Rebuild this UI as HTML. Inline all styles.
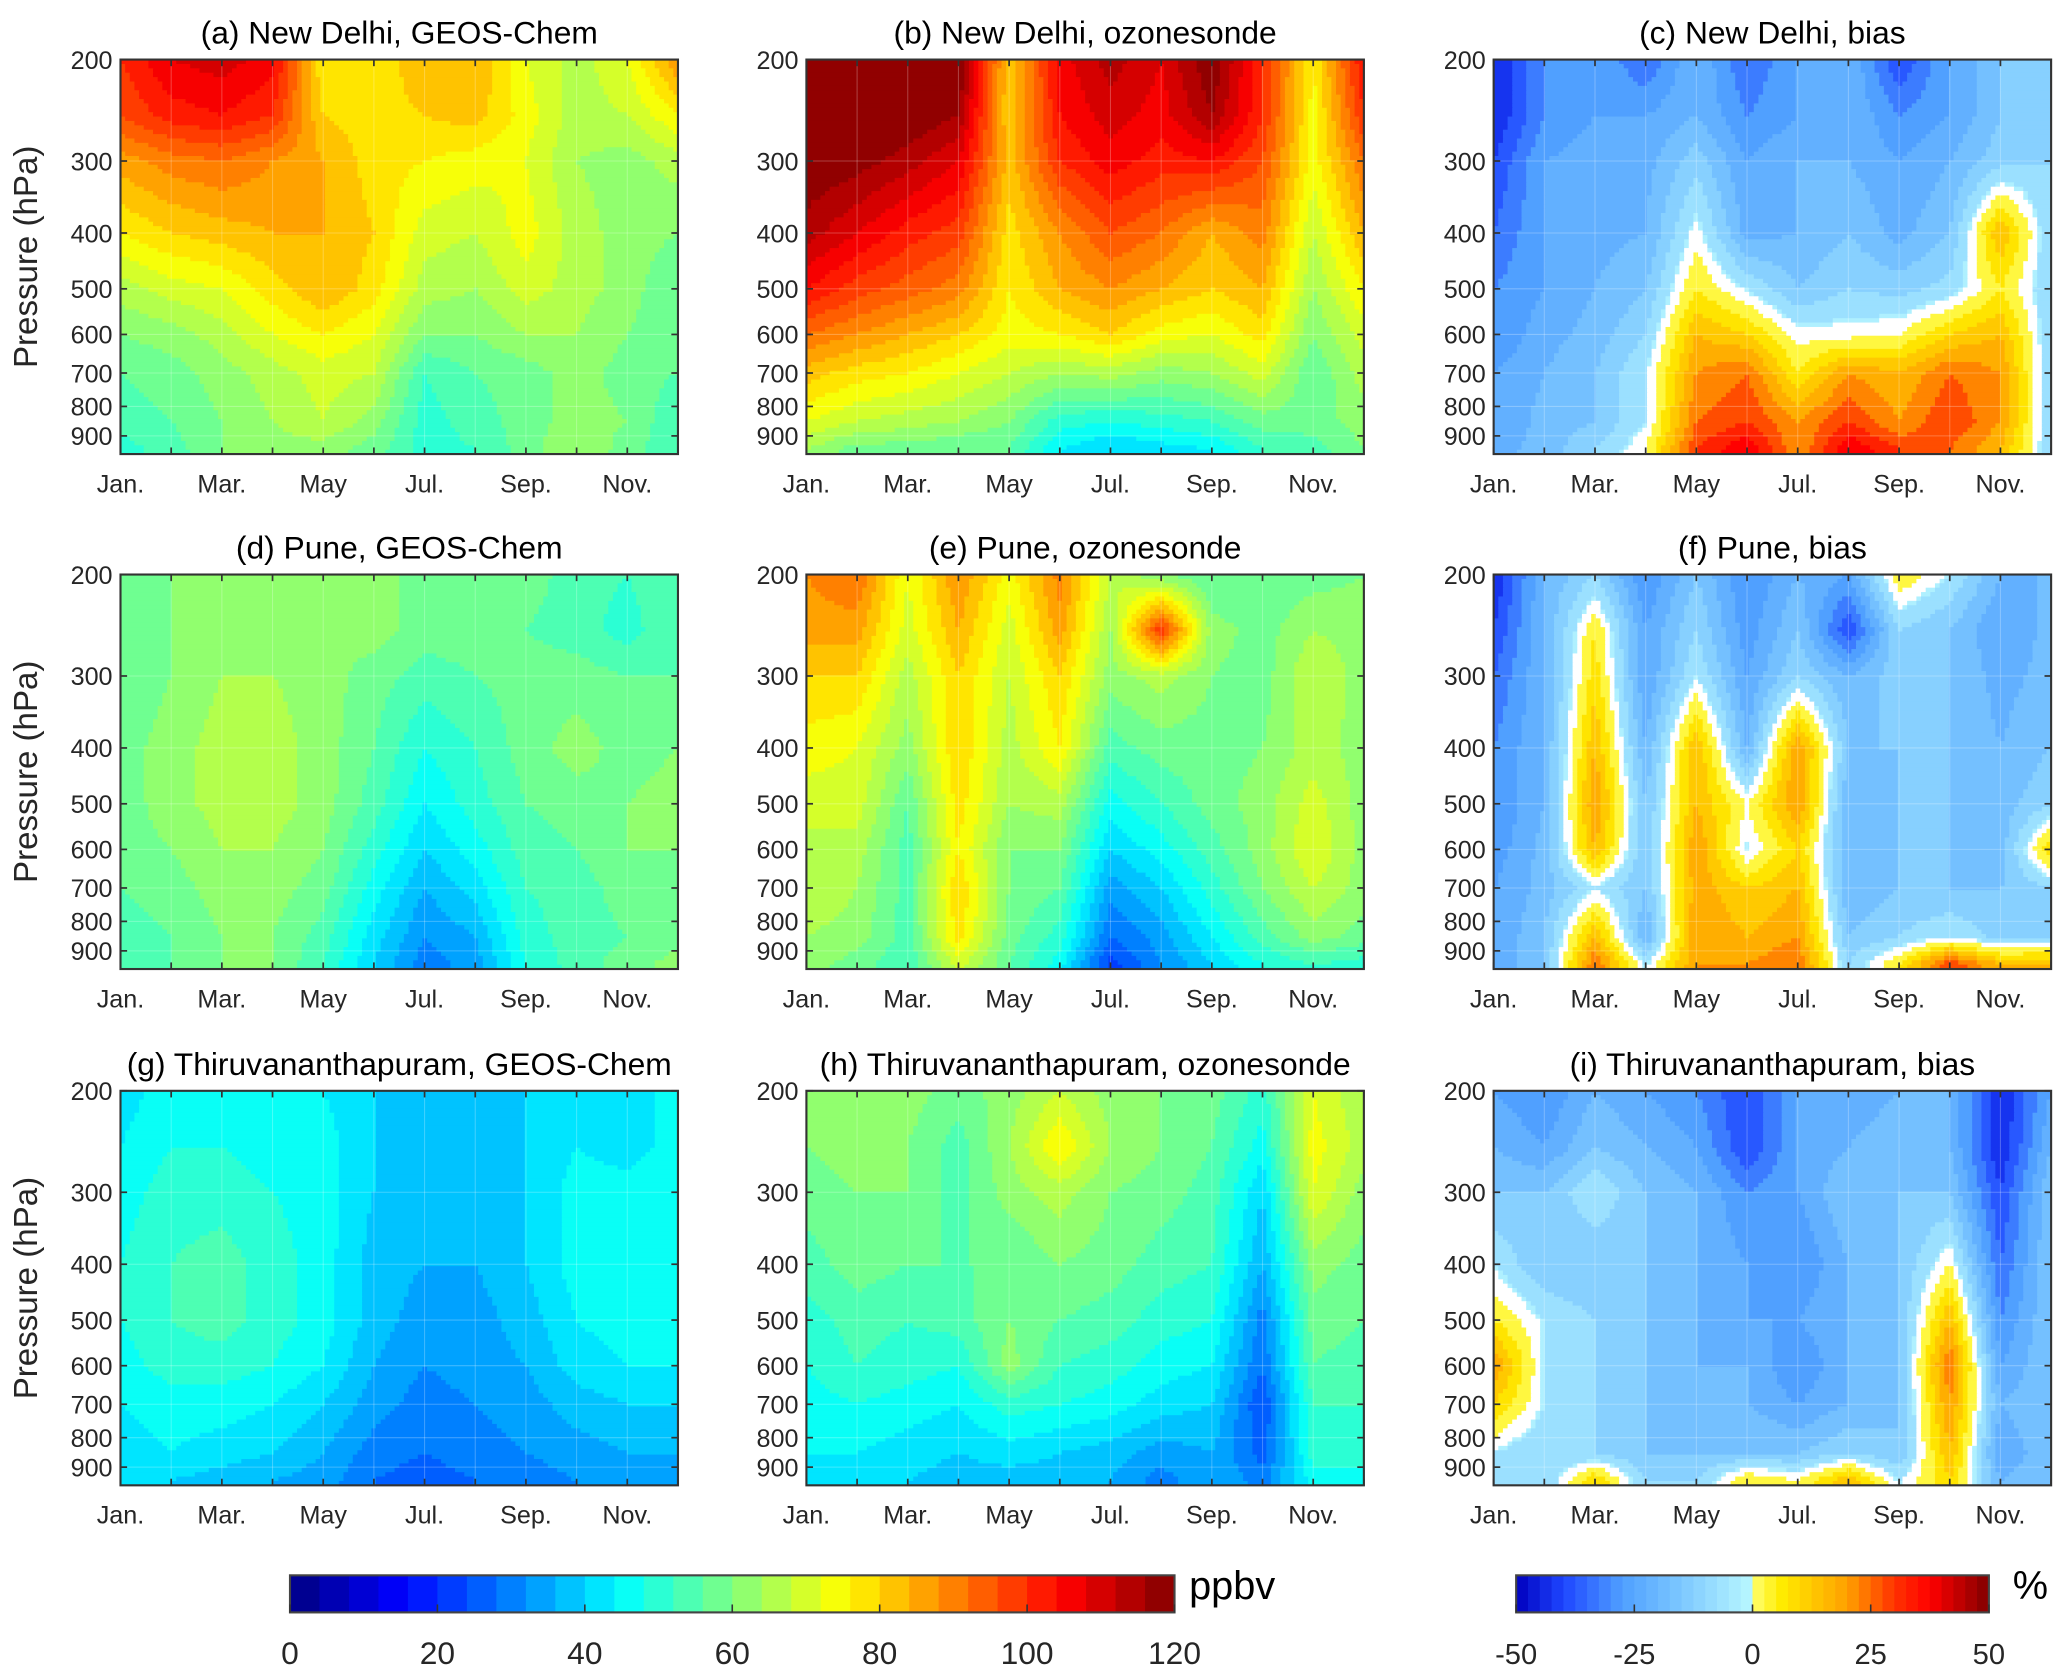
<!DOCTYPE html>
<html><head><meta charset="utf-8">
<style>
html,body{margin:0;padding:0;background:#fff;}
svg{display:block;font-family:"Liberation Sans",Arial,sans-serif;}
</style></head>
<body>
<svg id="fig" width="2067" height="1668" viewBox="0 0 1561 1260" preserveAspectRatio="none" xmlns="http://www.w3.org/2000/svg">
<rect x="0" y="0" width="1561" height="1260" fill="#fff"/>
</svg>
<script>
const months = ["Jan.","Mar.","May","Jul.","Sep.","Nov."];
const monthIdx = [1,3,5,7,9,11];
const levels = [200,250,300,400,500,600,700,850,950];
const pTicks = [200,300,400,500,600,700,800,900];
const titles = ["(a) New Delhi, GEOS-Chem","(b) New Delhi, ozonesonde","(c) New Delhi, bias",
"(d) Pune, GEOS-Chem","(e) Pune, ozonesonde","(f) Pune, bias",
"(g) Thiruvananthapuram, GEOS-Chem","(h) Thiruvananthapuram, ozonesonde","(i) Thiruvananthapuram, bias"];
const ppbTicks = [0,20,40,60,80,100,120];
const biasTicks = [-50,-25,0,25,50];

const dA = [
[100,108,110,106,76,76,84,84,72,66,72,88],
[96,102,104,100,80,78,80,82,74,66,68,76],
[86,90,92,88,84,78,76,74,72,64,62,66],
[76,80,82,84,84,80,70,68,74,66,62,60],
[66,70,72,78,84,78,66,64,70,66,62,56],
[60,62,66,72,76,72,60,60,64,64,60,56],
[56,58,62,66,70,68,52,56,58,62,58,56],
[54,56,60,64,68,62,50,54,58,62,60,52],
[50,54,60,62,62,58,50,52,58,64,58,52]];
const dB = [
[124,124,122,122,80,106,114,108,120,100,76,104],
[122,122,120,116,80,104,110,106,116,100,74,100],
[120,118,114,108,82,100,106,102,104,96,74,92],
[114,108,102,98,78,88,96,92,84,90,68,84],
[104,98,94,90,76,84,88,84,80,84,64,76],
[92,88,84,80,74,76,80,74,72,78,60,70],
[82,78,76,72,68,64,66,62,64,70,56,66],
[72,68,66,64,60,50,48,50,52,58,58,62],
[64,58,58,56,56,44,40,42,44,52,54,60]];
const dC = [
[-45,-30,-25,-35,-20,-35,-25,-20,-40,-25,-15,-15],
[-45,-30,-25,-25,-20,-30,-25,-20,-30,-25,-15,-15],
[-40,-25,-22,-22,-12,-25,-20,-20,-25,-20,-12,-10],
[-35,-25,-22,-20,-2,-22,-20,-15,-22,-15,15,-10],
[-30,-25,-20,-15,5,-5,-15,-10,-12,-8,5,-10],
[-30,-22,-18,-10,15,10,-2,-2,0,10,15,-10],
[-25,-20,-15,-5,20,25,5,20,15,25,20,-10],
[-25,-18,-15,-5,25,30,20,30,20,30,20,-10],
[-22,-18,-10,0,30,40,20,40,30,25,15,-10]];
const dD = [
[56,60,62,62,60,62,58,58,58,54,52,56],
[56,60,62,62,60,62,58,58,56,54,50,56],
[56,60,64,64,62,58,54,56,58,58,56,56],
[58,62,66,66,62,56,48,52,58,62,58,60],
[58,62,66,66,62,54,44,50,56,58,60,62],
[58,60,64,64,60,50,40,46,54,56,60,60],
[56,58,62,62,58,46,36,42,52,54,58,58],
[54,56,60,60,54,42,32,36,50,54,56,58],
[54,56,60,60,52,40,30,34,48,54,58,62]];
const dE = [
[88,92,72,88,74,90,68,60,56,56,58,60],
[86,86,70,84,70,86,64,100,62,58,64,62],
[80,80,66,80,68,80,62,66,60,58,68,62],
[74,72,62,80,66,76,54,58,58,60,66,62],
[70,70,56,78,64,66,46,52,58,62,70,62],
[66,66,54,76,60,60,40,46,54,62,72,62],
[68,64,54,80,60,56,34,40,50,60,68,62],
[64,62,54,78,58,50,28,34,44,54,62,58],
[62,58,52,70,56,46,22,32,40,48,52,50]];
const dF = [
[-45,-20,-10,-30,-15,-30,-20,-25,5,-5,-20,-20],
[-40,-20,5,-25,-10,-28,-15,-40,-10,-15,-25,-18],
[-35,-20,8,-25,-5,-25,-10,-20,-12,-15,-22,-18],
[-30,-20,15,-20,15,-20,20,-15,-15,-15,-20,-15],
[-30,-20,20,-15,15,0,20,-20,-15,-15,-18,-10],
[-28,-18,15,-15,20,-5,10,-20,-15,-15,-18,10],
[-25,-18,-5,-15,18,10,15,-20,-15,-15,-15,-10],
[-25,-15,15,-20,20,15,20,-15,-10,-5,-12,-10],
[-25,-15,25,-5,20,20,25,-10,5,30,15,15]];
const dG = [
[42,46,46,44,44,40,36,36,40,44,42,46],
[44,48,48,46,46,40,36,36,40,44,42,46],
[46,50,50,48,46,40,36,36,40,46,46,48],
[48,52,54,50,46,38,36,36,40,46,48,48],
[48,52,54,50,46,38,34,34,38,44,46,46],
[46,50,50,48,44,36,32,34,36,42,44,44],
[44,46,46,44,40,34,30,32,34,38,40,40],
[42,44,42,40,36,30,28,30,32,34,36,36],
[42,40,38,36,34,28,26,28,30,32,34,34]];
const dH = [
[60,62,62,58,62,68,62,60,58,50,72,64],
[60,62,60,54,64,76,64,60,56,46,74,66],
[58,60,60,54,62,66,60,58,54,40,72,62],
[54,58,56,56,56,60,58,54,52,36,62,58],
[50,54,52,54,60,56,54,50,48,30,58,56],
[48,52,50,48,62,52,50,46,44,28,56,54],
[46,48,46,44,50,48,46,42,40,24,52,52],
[44,44,42,40,42,40,38,34,36,26,50,50],
[42,40,40,38,38,38,36,30,36,30,46,46]];
const dI = [
[-25,-30,-20,-25,-30,-40,-25,-25,-20,-20,-45,-25],
[-20,-25,-15,-20,-25,-40,-25,-20,-15,-20,-45,-20],
[-15,-15,-5,-15,-20,-30,-25,-15,-15,-15,-40,-15],
[-5,-15,-15,-15,-20,-25,-30,-20,-15,0,-35,-15],
[5,-5,-10,-15,-20,-25,-25,-20,-15,15,-30,-15],
[20,-5,-10,-15,-20,-20,-30,-20,-15,25,-25,-15],
[10,-5,-10,-15,-20,-20,-25,-20,-15,20,-20,-15],
[-5,-10,-10,-15,-15,-15,-15,-10,-15,15,-25,-15],
[-10,-10,10,-10,-10,5,0,15,-5,10,-20,-15]];

const panelData = [dA,dB,dC,dD,dE,dF,dG,dH,dI];
const panelIsBias = [false,false,true,false,false,true,false,false,true];

const NS="http://www.w3.org/2000/svg";
const svg=document.getElementById('fig');
const colX=[91,609,1128], rowY=[45,434,824], PW=421, PH=298, PXLN=189;

function el(tag,attrs,parent){const e=document.createElementNS(NS,tag);for(const k in attrs)e.setAttribute(k,attrs[k]);(parent||svg).appendChild(e);return e;}
function clamp(v){return Math.max(0,Math.min(1,v));}
function hex(r,g,b){return "rgb("+Math.round(r*255)+","+Math.round(g*255)+","+Math.round(b*255)+")";}
function jet(t){return hex(clamp(1.5-Math.abs(4*t-3)),clamp(1.5-Math.abs(4*t-2)),clamp(1.5-Math.abs(4*t-1)));}
function interpStops(stops,t){
  for(let i=1;i<stops.length;i++){if(t<=stops[i][0]){const a=stops[i-1],b=stops[i];const f=(t-a[0])/(b[0]-a[0]);
    return "rgb("+[1,2,3].map(j=>Math.round(a[j]+(b[j]-a[j])*f)).join(",")+")";}}
  const s=stops[stops.length-1];return "rgb("+s[1]+","+s[2]+","+s[3]+")";
}
const negStops=[[0,0,0,190],[0.2,30,70,255],[0.45,80,160,255],[0.7,125,200,255],[1,185,248,255]];
const posStops=[[0,255,255,110],[0.12,255,236,0],[0.4,255,160,0],[0.6,255,50,0],[0.75,255,0,0],[1,128,0,0]];
function ppbColor(v){let q=Math.floor(v/4)*4+2;q=Math.max(2,Math.min(118,q));return jet(q/120);}
function biasColor(v){
  if(v>=-4 && v<0) return "#ffffff";
  if(v<0){let q=Math.floor(v/5)*5+2.5;q=Math.max(-47.5,q);return interpStops(negStops,(q+50)/50);}
  let q=Math.floor(v/5)*5+2.5;q=Math.min(47.5,q);return interpStops(posStops,q/50);
}
function sample(data,m,p){
  const lp=Math.log(p);let i=0;
  const ll=levels.map(Math.log);
  if(lp<=ll[0]) i=0; else if(lp>=ll[ll.length-1]) i=ll.length-2; else {while(!(lp>=ll[i]&&lp<=ll[i+1]))i++;}
  let fy=(lp-ll[i])/(ll[i+1]-ll[i]);fy=clamp(fy);
  let mi=Math.min(10,Math.max(0,Math.floor(m-1)));let fx=clamp(m-1-mi);
  const a=data[i][mi],b=data[i][mi+1],c=data[i+1][mi],d=data[i+1][mi+1];
  return (a*(1-fx)+b*fx)*(1-fy)+(c*(1-fx)+d*fx)*fy;
}

for(let k=0;k<9;k++){
  const x0=colX[k%3], y0=rowY[Math.floor(k/3)];
  const g=el('g',{});
  
  
  const xs=m=>x0+(m-1)/11*PW;
  const ys=p=>y0+Math.log(p/200)*PXLN;
  const data=panelData[k], bias=panelIsBias[k];
  const NX=120, NY=90, cw=PW/NX, ch=PH/NY;
  const field=el('g',{},g);
  
  
  for(let j=0;j<NY;j++){
    const p=200*Math.exp(((j+0.5)*ch)/PXLN);
    let runStart=0, runCol=null;
    for(let i=0;i<=NX;i++){
      let col=null;
      if(i<NX){const m=1+(i+0.5)/NX*11;const v=sample(data,m,p);col=bias?biasColor(v):ppbColor(v);}
      if(col!==runCol){
        if(runCol!==null){
          const r=el('rect',{x:(x0+runStart*cw).toFixed(2),y:(y0+j*ch).toFixed(2),width:((i-runStart)*cw+0.6).toFixed(2),height:(ch+0.6).toFixed(2),fill:runCol},field);
          
          
        }
        runStart=i;runCol=col;
      }
    }
  }
  for(let m=1;m<=12;m++){el('line',{x1:xs(m),x2:xs(m),y1:y0,y2:y0+PH,stroke:'#fff','stroke-opacity':0.25,'stroke-width':0.8},g);}
  for(const p of pTicks){el('line',{x1:x0,x2:x0+PW,y1:ys(p),y2:ys(p),stroke:'#fff','stroke-opacity':0.25,'stroke-width':0.8},g);}
  const fr=el('rect',{x:x0,y:y0,width:PW,height:PH,fill:'none',stroke:'#333','stroke-width':1.6},g);
  
  
  for(let m=1;m<=12;m++){
    el('line',{x1:xs(m),x2:xs(m),y1:y0+PH,y2:y0+PH-5,stroke:'#333','stroke-width':1.3},g);
    el('line',{x1:xs(m),x2:xs(m),y1:y0,y2:y0+5,stroke:'#333','stroke-width':1.3},g);
  }
  for(const p of pTicks){
    el('line',{x1:x0,x2:x0+5,y1:ys(p),y2:ys(p),stroke:'#333','stroke-width':1.3},g);
    el('line',{x1:x0+PW,x2:x0+PW-5,y1:ys(p),y2:ys(p),stroke:'#333','stroke-width':1.3},g);
    const t=el('text',{x:x0-6,y:ys(p)+7,'text-anchor':'end','font-size':19,fill:'#262626'},g);
    t.textContent=p;
    
    
  }
  months.forEach((lab,i)=>{
    const t=el('text',{x:xs(monthIdx[i]),y:y0+PH+29,'text-anchor':'middle','font-size':19,fill:'#262626'},g);
    t.textContent=lab;
    
    
  });
  const tt=el('text',{x:x0+PW/2,y:y0-12,'text-anchor':'middle','font-size':24,fill:'#000'},g);
  tt.textContent=titles[k];
  
  
  if(k%3===0){
    const yl=el('text',{x:0,y:0,'text-anchor':'middle','font-size':25,fill:'#262626',transform:'translate(28,'+(y0+PH/2)+') rotate(-90)'},g);
    yl.textContent='Pressure (hPa)';
    
    
  }
}

(function(){
  const g=el('g',{});
  
  
  const x0=219,x1=887,y0=1190,h=28;
  const n=30,w=(x1-x0)/n;
  for(let i=0;i<n;i++){el('rect',{x:x0+i*w,y:y0,width:w+0.5,height:h,fill:ppbColor(i*4+1)},g);}
  el('rect',{x:x0,y:y0,width:x1-x0,height:h,fill:'none',stroke:'#444','stroke-width':1.6},g);
  ppbTicks.forEach(v=>{
    const x=x0+v/120*(x1-x0);
    el('line',{x1:x,x2:x,y1:y0+h,y2:y0+h-6,stroke:'#333','stroke-width':1.2},g);
    const t=el('text',{x:x,y:1257,'text-anchor':'middle','font-size':24,fill:'#262626'},g);
    t.textContent=v;
    
    
  });
  const u=el('text',{x:898,y:1208,'font-size':30,fill:'#000'},g);
  u.textContent='ppbv';
  
  
})();
(function(){
  const g=el('g',{});
  
  
  const x0=1145,x1=1502,y0=1190,h=28;
  const n=40,w=(x1-x0)/n;
  for(let i=0;i<n;i++){
    const v=-50+i*2.5+1.2;
    let c; if(v<0){c=interpStops(negStops,(v+50)/50);} else {c=interpStops(posStops,v/50);}
    el('rect',{x:x0+i*w,y:y0,width:w+0.5,height:h,fill:c},g);
  }
  el('rect',{x:x0,y:y0,width:x1-x0,height:h,fill:'none',stroke:'#444','stroke-width':1.6},g);
  biasTicks.forEach(v=>{
    const x=x0+(v+50)/100*(x1-x0);
    el('line',{x1:x,x2:x,y1:y0+h,y2:y0+h-6,stroke:'#333','stroke-width':1.2},g);
    const t=el('text',{x:x,y:1257,'text-anchor':'middle','font-size':22,fill:'#262626'},g);
    t.textContent=v;
    
    
  });
  const u=el('text',{x:1520,y:1208,'font-size':30,fill:'#000'},g);
  u.textContent='%';
  
  
})();
</script>
</body></html>
